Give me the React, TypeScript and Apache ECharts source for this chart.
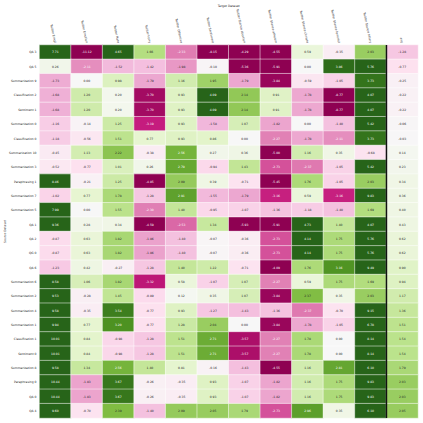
import React, { useEffect, useRef } from "react";
import * as echarts from "echarts";

const targetNames = [
  "Twitter Emoji",
  "Twitter Emotion",
  "Twitter Hate",
  "Twitter Irony",
  "Twitter Offensive",
  "Twitter Sentiment",
  "Twitter Stance abortion",
  "Twitter Stance atheism",
  "Twitter Stance climate",
  "Twitter Stance feminist",
  "Twitter Stance hillary",
  "avg",
];

const sourceNames = [
  "QA 3",
  "QA 5",
  "Summarization 9",
  "Classification 2",
  "Sentiment 1",
  "Summarization 0",
  "Classification 0",
  "Summarization 10",
  "Summarization 3",
  "Paraphrasing 1",
  "Summarization 7",
  "Summarization 5",
  "QA 1",
  "QA 2",
  "QG 0",
  "QA 6",
  "Summarization 6",
  "Summarization 2",
  "Summarization 4",
  "Summarization 1",
  "Classification 1",
  "Sentiment 0",
  "Summarization 8",
  "Paraphrasing 0",
  "QA 0",
  "QA 4",
];

// one row per source dataset, 11 target datasets
const cellValues: number[][] = [
  [7.71, -11.12, 4.65, 1.66, -2.33, -8.15, -4.29, -4.55, 0.59, -0.35, 2.03],
  [0.26, -2.11, -1.52, -1.42, -1.98, -0.1, -5.36, -5.91, 0.0, 3.86, 5.76],
  [-1.73, 0.0, 0.98, -1.79, 1.16, 1.95, -1.79, -3.84, -0.59, -1.05, 3.73],
  [-1.68, 1.2, 0.2, -3.7, 0.93, 4.09, 2.14, 0.91, -1.78, -8.77, 4.07],
  [-1.68, 1.2, 0.2, -3.7, 0.93, 4.09, 2.14, 0.91, -1.78, -8.77, 4.07],
  [-1.16, -0.14, 1.25, -3.19, 0.93, -1.58, 1.07, -1.82, 0.0, -1.4, 5.42],
  [-1.18, -0.56, 1.51, 0.77, 0.93, 0.86, 0.0, -2.27, -1.78, -2.11, 3.73],
  [-0.45, 1.13, 2.22, -0.38, 2.56, 0.27, 0.36, -5.0, 1.16, 0.35, -0.68],
  [-0.52, -0.77, 1.01, 0.26, 2.79, -0.94, 1.43, -2.73, -2.37, -1.05, 5.42],
  [8.46, -0.21, 1.25, -4.85, 2.09, 0.39, -0.71, -5.45, 1.76, -1.05, 2.03],
  [-1.02, 0.77, 1.78, -1.28, 2.91, -1.55, -1.79, -3.16, 0.59, -3.16, 9.83],
  [7.99, 0.0, 1.55, -2.3, 1.4, -0.95, -1.07, -1.36, -1.18, -1.4, 1.69],
  [9.36, 0.28, 0.34, -4.59, -2.53, 1.34, -5.93, -5.91, 4.73, 1.4, 4.07],
  [-0.87, 0.63, 1.82, -1.86, -1.4, -0.07, -0.36, -2.73, 4.14, 1.75, 5.76],
  [-0.87, 0.63, 1.82, -1.86, -1.4, -0.07, -0.36, -2.73, 4.14, 1.75, 5.76],
  [-1.23, 0.42, -0.27, -1.28, 1.4, 1.22, -0.71, -4.09, 1.76, 3.16, 9.49],
  [8.58, 1.06, 1.82, -3.32, 0.58, -1.07, 1.07, -2.27, 0.59, 1.75, 1.69],
  [9.53, -0.28, 1.45, -0.89, 0.12, 0.35, 1.07, -3.84, 2.37, 0.35, 2.03],
  [9.58, -0.35, 3.54, -0.77, 0.93, -1.27, -1.43, -1.36, -2.37, -0.7, 9.15],
  [9.94, 0.77, 3.2, -0.77, 1.28, 2.04, 0.0, -3.84, -1.78, -1.05, 6.78],
  [10.01, 0.84, -0.98, -1.28, 1.51, 2.71, -3.57, -2.27, 1.78, 0.0, 8.14],
  [10.01, 0.84, -0.98, -1.28, 1.51, 2.71, -3.57, -2.27, 1.78, 0.0, 8.14],
  [9.58, 1.34, 2.56, 1.4, 0.81, -0.16, -1.43, -4.55, 1.16, 2.81, 6.1],
  [10.44, -1.83, 3.67, -0.26, -0.35, 0.93, -1.07, -1.82, 1.16, 1.75, 9.83],
  [10.44, -1.83, 3.67, -0.26, -0.35, 0.93, -1.07, -1.82, 1.16, 1.75, 9.83],
  [9.6, -0.7, 2.39, -1.4, 2.09, 2.05, 1.79, -2.73, 2.96, 0.35, 6.1],
];

const avgValues = [
  -1.28, -0.77, -0.25, -0.22, -0.22, -0.06, -0.03, 0.14, 0.23, 0.34, 0.36,
  0.4, 0.43, 0.62, 0.62, 0.9, 0.94, 1.17, 1.36, 1.51, 1.54, 1.54, 1.79,
  2.03, 2.03, 2.05,
];

const PIYG = [
  "#8e0152", "#c51b7d", "#de77ae", "#f1b6da", "#fde0ef", "#f7f7f7",
  "#e6f5d0", "#b8e186", "#7fbc41", "#4d9221", "#276419",
];
const VMIN = -4;
const VMAX = 4;

function hexToRgb(h: string): number[] {
  return [1, 3, 5].map((i) => parseInt(h.slice(i, i + 2), 16));
}

function cmap(v: number): number[] {
  let t = (v - VMIN) / (VMAX - VMIN);
  t = Math.max(0, Math.min(1, t));
  const pos = t * (PIYG.length - 1);
  const i = Math.min(PIYG.length - 2, Math.floor(pos));
  const f = pos - i;
  const a = hexToRgb(PIYG[i]);
  const b = hexToRgb(PIYG[i + 1]);
  return a.map((c, k) => c + (b[k] - c) * f);
}

function lum(rgb: number[]): number {
  const lin = rgb.map((c) => {
    const s = c / 255;
    return s <= 0.03928 ? s / 12.92 : Math.pow((s + 0.055) / 1.055, 2.4);
  });
  return 0.2126 * lin[0] + 0.7152 * lin[1] + 0.0722 * lin[2];
}

const FONT = "DejaVu Sans";

export default function App() {
  const ref = useRef<HTMLDivElement>(null);

  useEffect(() => {
    if (!ref.current) return;
    const chart = echarts.init(ref.current, null, { renderer: "svg" });

    const data: any[] = [];
    sourceNames.forEach((src, r) => {
      const rowVals = [...cellValues[r], avgValues[r]];
      rowVals.forEach((v, c) => {
        const rgb = cmap(v);
        data.push({
          value: [c, r, v],
          label: { color: lum(rgb) > 0.408 ? "#262626" : "#ffffff" },
        });
      });
    });

    chart.setOption({
      animation: false,
      grid: {
        left: 39.5,
        top: 45,
        right: 5,
        bottom: 5,
        containLabel: false,
        outerBoundsMode: "none",
      },
      visualMap: {
        type: "continuous",
        show: false,
        min: VMIN,
        max: VMAX,
        dimension: 2,
        calculable: false,
        inRange: { color: PIYG },
      },
      xAxis: {
        type: "category",
        position: "top",
        data: targetNames,
        name: "Target Dataset",
        nameLocation: "middle",
        nameGap: 38,
        nameMoveOverlap: false,
        nameTextStyle: { fontFamily: FONT, fontSize: 3, color: "#262626" },
        axisLine: { show: false },
        axisTick: { show: false },
        splitLine: { show: false },
        axisLabel: {
          rotate: 78,
          fontFamily: FONT,
          fontSize: 3,
          color: "#262626",
          margin: 2,
          interval: 0,
        },
      },
      yAxis: {
        type: "category",
        inverse: true,
        data: sourceNames,
        name: "Source Dataset",
        nameLocation: "middle",
        nameGap: 33,
        nameMoveOverlap: false,
        nameTextStyle: { fontFamily: FONT, fontSize: 3, color: "#262626" },
        axisLine: { show: false },
        axisTick: { show: false },
        splitLine: { show: false },
        axisLabel: {
          fontFamily: FONT,
          fontSize: 3,
          color: "#262626",
          margin: 3,
          interval: 0,
        },
      },
      series: [
        {
          type: "heatmap",
          data,
          itemStyle: { borderColor: "#ffffff", borderWidth: 0.5 },
          label: {
            show: true,
            fontFamily: FONT,
            fontSize: 3,
            formatter: (p: any) => p.value[2].toFixed(2),
          },
          emphasis: { disabled: true },
        },
      ],
    });

    const x10 = chart.convertToPixel({ xAxisIndex: 0 }, targetNames[10]) as number;
    const x11 = chart.convertToPixel({ xAxisIndex: 0 }, targetNames[11]) as number;
    const y0 = chart.convertToPixel({ yAxisIndex: 0 }, sourceNames[0]) as number;
    const yN = chart.convertToPixel(
      { yAxisIndex: 0 },
      sourceNames[sourceNames.length - 1]
    ) as number;
    const half = (yN - y0) / (sourceNames.length - 1) / 2;
    const xm = (x10 + x11) / 2;
    chart.setOption({
      graphic: [
        {
          type: "line",
          silent: true,
          z: 100,
          shape: { x1: xm, y1: y0 - half, x2: xm, y2: yN + half },
          style: { stroke: "#111111", lineWidth: 1.5 },
        },
      ],
    });

    return () => chart.dispose();
  }, []);

  return (
    <div
      ref={ref}
      style={{ position: "absolute", left: 0, top: 0, width: 423, height: 423, background: "#fff" }}
    />
  );
}
